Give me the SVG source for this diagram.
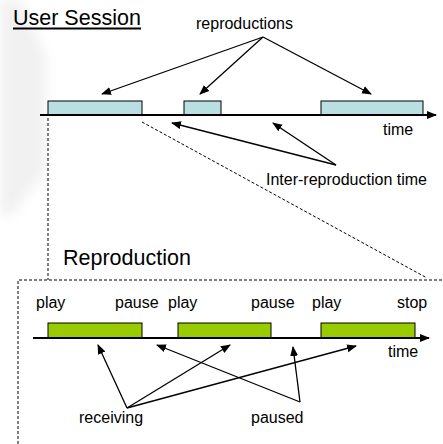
<svg xmlns="http://www.w3.org/2000/svg" width="443" height="444" viewBox="0 0 443 444">
<defs>
<marker id="ah" viewBox="0 0 10 10" refX="9" refY="5" markerWidth="10" markerHeight="10" markerUnits="userSpaceOnUse" orient="auto">
<path d="M0,1 L10,5 L0,9 z" fill="#000"/>
</marker>
<marker id="axh" viewBox="0 0 10 10" refX="9" refY="5" markerWidth="10" markerHeight="10" markerUnits="userSpaceOnUse" orient="auto">
<path d="M0,1 L10,5 L0,9 z" fill="#000"/>
</marker>
<filter id="blur" x="-50%" y="-50%" width="200%" height="200%"><feGaussianBlur stdDeviation="6"/></filter>
</defs>
<style>
text{font-family:"Liberation Sans",Arial,sans-serif;fill:#000}
.lbl{font-size:16px}
.ttl{font-size:21.5px}
.arr{stroke:#000;stroke-width:1.3;fill:none;marker-end:url(#ah)}
.axis{stroke:#000;stroke-width:2;fill:none;marker-end:url(#axh)}
.dash{stroke:#000;stroke-width:1;stroke-dasharray:3,2;fill:none}
.blue{fill:#b9dfe2;stroke:#000;stroke-width:1}
.green{fill:#99cc00;stroke:#000;stroke-width:1}
</style>
<rect width="443" height="444" fill="#fff"/>
<g id="watermark" filter="url(#blur)" fill="#f1f1f1">
<polygon points="0,0 20,0 46,55 46,170 12,215 0,215"/>
</g>
<g id="session">
<text class="ttl" x="13" y="25">User Session</text>
<line x1="13" y1="28.5" x2="141" y2="28.5" stroke="#000" stroke-width="1.8"/>
<rect class="blue" x="48" y="101" width="94" height="14"/>
<rect class="blue" x="184" y="101" width="37" height="14"/>
<rect class="blue" x="321" y="101" width="102" height="14"/>
<line class="axis" x1="40" y1="115" x2="436" y2="115"/>
<text class="lbl" x="383" y="135">time</text>
<text class="lbl" x="196" y="29">reproductions</text>
<text class="lbl" x="266" y="185">Inter-reproduction time</text>
</g>
<g id="reproduction">
<text class="ttl" x="63" y="265">Reproduction</text>
<text class="lbl" x="36" y="308">play</text>
<text class="lbl" x="115" y="308">pause</text>
<text class="lbl" x="168" y="308">play</text>
<text class="lbl" x="251" y="308">pause</text>
<text class="lbl" x="312" y="308">play</text>
<text class="lbl" x="397" y="308">stop</text>
<rect class="green" x="48" y="323" width="94" height="15"/>
<rect class="green" x="178" y="323" width="93" height="15"/>
<rect class="green" x="321" y="323" width="94" height="15"/>
<line class="axis" x1="33" y1="338" x2="429" y2="338"/>
<text class="lbl" x="388" y="357">time</text>
<text class="lbl" x="79" y="423">receiving</text>
<text class="lbl" x="251" y="423">paused</text>
</g>
<g id="connectors">
<line class="dash" x1="48" y1="118" x2="48" y2="280"/>
<line class="dash" x1="142" y1="122" x2="427" y2="278"/>
<polyline class="dash" points="18,444 18,280 443,280"/>
<line class="arr" x1="263" y1="37" x2="102" y2="94"/>
<line class="arr" x1="263" y1="37" x2="200" y2="94"/>
<line class="arr" x1="263" y1="37" x2="371" y2="94"/>
<line class="arr" x1="336" y1="165" x2="172" y2="123"/>
<line class="arr" x1="336" y1="165" x2="273" y2="123"/>
<line class="arr" x1="127" y1="408" x2="98" y2="345"/>
<line class="arr" x1="127" y1="408" x2="230" y2="345"/>
<line class="arr" x1="127" y1="408" x2="356" y2="346"/>
<line class="arr" x1="300" y1="402" x2="157" y2="345"/>
<line class="arr" x1="300" y1="402" x2="293" y2="347"/>
</g>
</svg>
